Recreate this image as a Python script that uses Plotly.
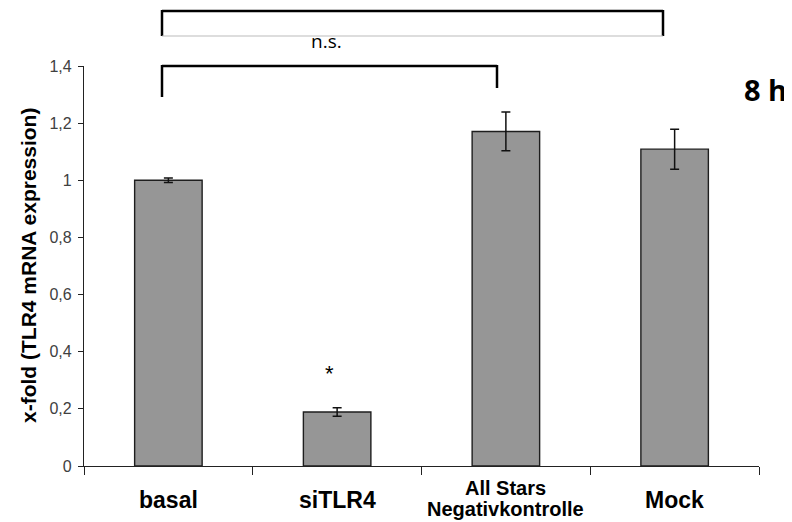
import plotly.graph_objects as go

categories = ["basal", "siTLR4", "All Stars<br>Negativkontrolle", "Mock"]
values = [1.0, 0.189, 1.171, 1.109]
errors = [0.008, 0.015, 0.068, 0.07]
ytick_vals = [0, 0.2, 0.4, 0.6, 0.8, 1.0, 1.2, 1.4]
ytick_text = ["0", "0,2", "0,4", "0,6", "0,8", "1", "1,2", "1,4"]
y_title = "x-fold (TLR4 mRNA expression)"

# page body has an 8px default margin
OFF = 8
VW, VH = 792, 522
L_abs, R_abs, T_abs, B_abs = 84, 759, 66, 466
W, H = VW - OFF, VH - OFF
pw, ph = R_abs - L_abs, B_abs - T_abs


def px(x):
    return (x - L_abs) / pw


def py(y):
    return (B_abs - y) / ph


fig = go.Figure()
fig.add_trace(go.Bar(
    x=categories, y=values,
    marker=dict(color="#969696", line=dict(color="#1e1e1e", width=1.4)),
    error_y=dict(type="data", array=errors, visible=True, color="#111111",
                 thickness=1.5, width=4.5),
    width=0.4,
))

line_k = dict(color="black", width=2.5)
shapes = [
    dict(type="line", xref="paper", yref="paper", x0=px(162), x1=px(663), y0=py(11), y1=py(11), line=line_k),
    dict(type="line", xref="paper", yref="paper", x0=px(162), x1=px(162), y0=py(10), y1=py(36), line=line_k),
    dict(type="line", xref="paper", yref="paper", x0=px(663), x1=px(663), y0=py(10), y1=py(36), line=line_k),
    dict(type="line", xref="paper", yref="paper", x0=px(162), x1=px(663), y0=py(36), y1=py(36),
         line=dict(color="#bbbbbb", width=1)),
    dict(type="line", xref="paper", yref="paper", x0=px(162), x1=px(497), y0=py(66), y1=py(66), line=line_k),
    dict(type="line", xref="paper", yref="paper", x0=px(162), x1=px(162), y0=py(65), y1=py(97), line=line_k),
    dict(type="line", xref="paper", yref="paper", x0=px(497), x1=px(497), y0=py(65), y1=py(88), line=line_k),
]

annotations = [
    dict(text="n.s.", xref="paper", yref="paper", x=px(326), y=py(41), showarrow=False,
         font=dict(family="Open Sans", size=19, color="black"), xanchor="center", yanchor="middle"),
    dict(text="<b>8 h</b>", xref="paper", yref="paper", x=px(765), y=py(89), showarrow=False,
         font=dict(family="Open Sans", size=29, color="black"), xanchor="center", yanchor="middle"),
    dict(text="*", xref="x", yref="y", x=categories[1], y=0.325, xshift=-8, showarrow=False,
         font=dict(family="Liberation Sans", size=22, color="black"), xanchor="center", yanchor="middle"),
    dict(text="<b>" + y_title + "</b>", xref="paper", yref="paper", x=px(28), y=py(266),
         textangle=-90, showarrow=False,
         font=dict(family="Liberation Sans", size=21, color="black"), xanchor="center", yanchor="middle"),
]

# category labels drawn below the axis, centred vertically like the original
for cat in categories:
    lines = cat.split("<br>")
    if len(lines) == 1:
        annotations.append(dict(text="<b>" + lines[0] + "</b>", xref="x", yref="paper", x=cat, y=py(500),
                                showarrow=False, xanchor="center", yanchor="middle",
                                font=dict(family="Liberation Sans", size=23, color="black")))
    else:
        centers = [488, 509]
        for ln, cy in zip(lines, centers):
            annotations.append(dict(text="<b>" + ln + "</b>", xref="x", yref="paper", x=cat, y=py(cy),
                                    showarrow=False, xanchor="center", yanchor="middle",
                                    font=dict(family="Liberation Sans", size=20, color="black")))

fig.update_layout(
    width=W, height=H,
    margin=dict(l=L_abs - OFF, r=VW - R_abs, t=T_abs - OFF, b=VH - B_abs),
    paper_bgcolor="white", plot_bgcolor="white",
    showlegend=False,
    shapes=shapes, annotations=annotations,
    font=dict(family="Liberation Sans", color="black"),
)
fig.update_xaxes(
    automargin=False,
    showline=True, linecolor="#222222", linewidth=1.2,
    ticks="outside", ticklen=8, tickcolor="#222222", tickwidth=1.2,
    tickson="boundaries", showticklabels=False,
    range=[-0.5, 3.5],
)
fig.update_yaxes(
    automargin=False,
    range=[0, 1.4], tickvals=ytick_vals, ticktext=ytick_text,
    showline=True, linecolor="#222222", linewidth=1.2,
    ticks="outside", ticklen=5, tickcolor="#222222",
    showgrid=False, zeroline=False, ticklabelstandoff=3,
    tickfont=dict(family="Liberation Sans", size=16, color="#404040"),
)

fig.write_html("out.html")
